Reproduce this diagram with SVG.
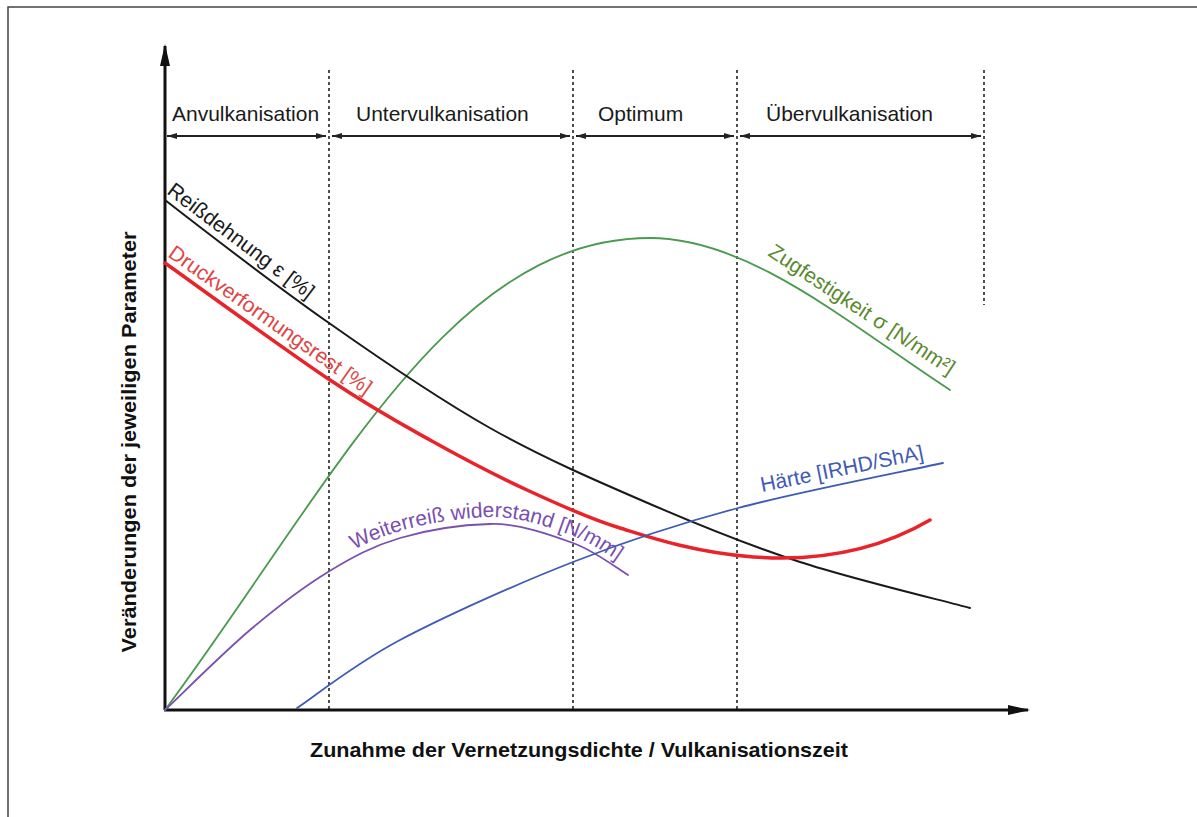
<svg xmlns="http://www.w3.org/2000/svg" width="1197" height="817" viewBox="0 0 1197 817">
<defs>
<style>
.lbl{font-family:"Liberation Sans",Arial,sans-serif;font-size:21px;fill:#1a1a1a}
.ax{font-family:"Liberation Sans",Arial,sans-serif;font-size:21px;font-weight:bold;fill:#111}
.dash{stroke:#222;stroke-width:1.6;stroke-dasharray:3,3;fill:none}
.rng{stroke:#222;stroke-width:1.8;fill:none}
.crv{fill:none;stroke-linecap:round;stroke-linejoin:round}
</style>
<marker id="axh" viewBox="0 0 22 10" refX="20" refY="5" markerWidth="22" markerHeight="10" markerUnits="userSpaceOnUse" orient="auto">
<path d="M0,0 L22,5 L0,10 z" fill="#111"/>
</marker>
<marker id="sh" viewBox="0 0 10 6" refX="10" refY="3" markerWidth="10" markerHeight="6" markerUnits="userSpaceOnUse" orient="auto-start-reverse">
<path d="M0,0 L10,3 L0,6 z" fill="#222"/>
</marker>
<path id="wpath" d="M328,565 C353,549.7 373,539 400,531 C427,523 461.2,517.8 490,517 C518.8,516.2 550,527.5 573,536 C596,544.5 618.8,562.7 628,568 L655,584"/>
</defs>
<rect x="0" y="0" width="1197" height="817" fill="#fff"/>
<path d="M8,817 L8,7 L1197,7" fill="none" stroke="#444" stroke-width="1.5"/>

<g id="connectors">
<line class="dash" x1="329" y1="70" x2="329" y2="710"/>
<line class="dash" x1="573" y1="70" x2="573" y2="710"/>
<line class="dash" x1="737" y1="70" x2="737" y2="710"/>
<line class="dash" x1="984" y1="70" x2="984" y2="305"/>
<line class="rng" x1="167" y1="136" x2="326" y2="136" marker-start="url(#sh)" marker-end="url(#sh)"/>
<line class="rng" x1="332" y1="136" x2="570" y2="136" marker-start="url(#sh)" marker-end="url(#sh)"/>
<line class="rng" x1="576" y1="136" x2="734" y2="136" marker-start="url(#sh)" marker-end="url(#sh)"/>
<line class="rng" x1="740" y1="136" x2="981" y2="136" marker-start="url(#sh)" marker-end="url(#sh)"/>
<line x1="165" y1="710" x2="165" y2="46" stroke="#111" stroke-width="3" marker-end="url(#axh)"/>
<line x1="164" y1="710" x2="1028" y2="710" stroke="#111" stroke-width="3" marker-end="url(#axh)"/>
</g>

<g id="phase-labels">
<text class="lbl" x="172" y="121">Anvulkanisation</text>
<text class="lbl" x="356" y="121">Untervulkanisation</text>
<text class="lbl" x="598" y="121">Optimum</text>
<text class="lbl" x="766" y="121">Übervulkanisation</text>
</g>

<g id="curve-zugfestigkeit">
<path class="crv" stroke="#4a9a50" stroke-width="1.8" d="M165,710 C335,480.5 450,238 650,238 C750,238 850,325 950,390"/>
<text class="lbl" style="fill:#5a8a30" transform="translate(767,255) rotate(33.5)">Zugfestigkeit σ [N/mm²]</text>
</g>

<g id="curve-reissdehnung">
<path class="crv" stroke="#1a1a1a" stroke-width="2" d="M165,200 C192,221 275,285 329,323 C383,361 436.5,397.8 490,428 C543.5,458.2 598.3,481.7 650,504 C701.7,526.3 746.7,544.7 800,562 C853.3,579.3 941.7,600.3 970,608"/>
<text class="lbl" transform="translate(166,193) rotate(37)">Reißdehnung ε [%]</text>
</g>

<g id="curve-druckverformungsrest">
<path class="crv" stroke="#e8232a" stroke-width="3.5" d="M165,263 C192.5,282.5 285.8,350.5 330,380 C374.2,409.5 397.2,421.7 430,440 C462.8,458.3 495.3,475.3 527,490 C558.7,504.7 591,519.3 620,528 C656.7,539 803.3,594 930,520"/>
<text class="lbl" style="fill:#e04545" transform="translate(167,256) rotate(35)">Druckverformungsrest [%]</text>
</g>

<g id="curve-weiterreiss">
<path class="crv" stroke="#7a4fb0" stroke-width="1.8" d="M165,710 C179.2,696.7 222.8,653 250,630 C277.2,607 303,587.3 328,572 C353,556.7 373,546 400,538 C427,530 461.2,524.8 490,524 C518.8,523.2 550,534.5 573,543 C596,551.5 618.8,569.7 628,575"/>
<text class="lbl" style="fill:#7a4fb0"><textPath href="#wpath" startOffset="30">Weiterreiß widerstand [N/mm]</textPath></text>
</g>

<g id="curve-haerte">
<path class="crv" stroke="#3f5bb5" stroke-width="1.8" d="M297,708 C314.2,696.7 354,664.3 400,640 C446,615.7 516.7,584 573,562 C629.3,540 676.3,524.5 738,508 C799.7,491.5 908.8,470.5 943,463"/>
<text class="lbl" style="fill:#3f5bb5" transform="translate(762,492) rotate(-11.5)">Härte [IRHD/ShA]</text>
</g>

<g id="axis-labels">
<text class="ax" x="310" y="757" textLength="538" lengthAdjust="spacingAndGlyphs">Zunahme der Vernetzungsdichte / Vulkanisationszeit</text>
<text class="ax" transform="translate(136,442) rotate(-90)" text-anchor="middle" textLength="421" lengthAdjust="spacingAndGlyphs">Veränderungen der jeweiligen Parameter</text>
</g>
</svg>
